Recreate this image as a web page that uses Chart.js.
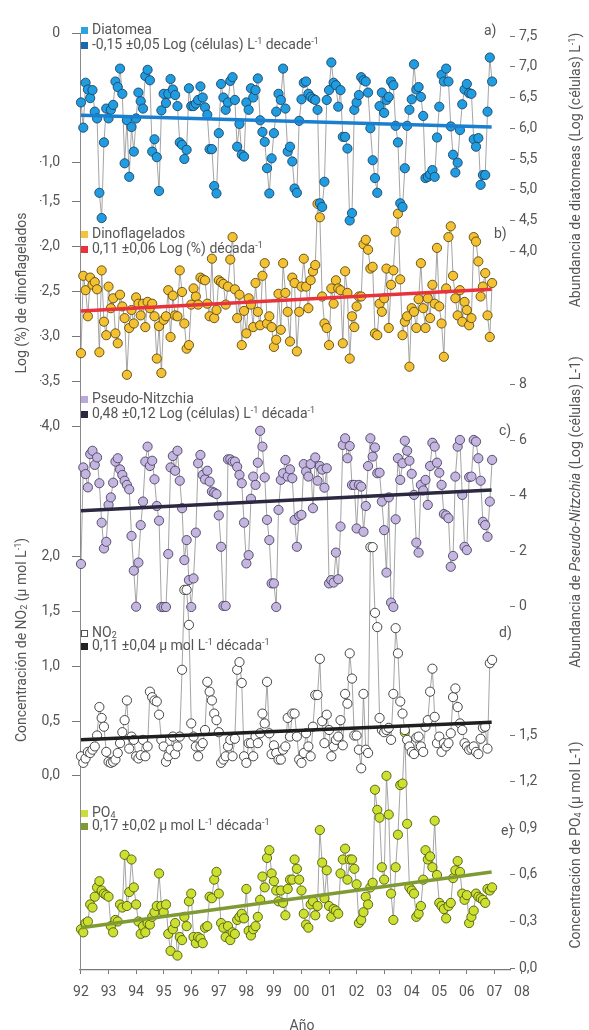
<!DOCTYPE html>
<html>
<head>
<meta charset="utf-8">
<script src="https://cdn.jsdelivr.net/npm/chart.js@4.4.0/dist/chart.umd.min.js"></script>
<style>
  body { margin: 0; background: #fff; }
  #wrap { position: relative; width: 589px; height: 1030px; font-family: Roboto, "DejaVu Sans", sans-serif; color: #555; }
  #c { position: absolute; left: 0; top: 0; }
  .t { position: absolute; white-space: nowrap; font-size: 14px; line-height: 14px; }
  .sq { display: inline-block; width: 7px; height: 7px; margin-right: 4px; box-sizing: border-box; }
  .rot { position: absolute; white-space: nowrap; font-size: 14px; transform: translate(-50%, -50%) rotate(-90deg); }
  sup { font-size: 9px; line-height: 0; vertical-align: 5px; }
  sub { font-size: 9px; line-height: 0; vertical-align: -1px; }
</style>
</head>
<body>
<div id="wrap">
  <canvas id="c" width="589" height="1030"></canvas>

  <div class="t" style="left:81px;top:22px"><span class="sq" style="background:#2aa4e0"></span>Diatomea</div>
  <div class="t" style="left:81px;top:37px"><span class="sq" style="background:#1b68ad"></span>-0,15 ±0,05 Log (células) L<sup>-1</sup> decade<sup>-1</sup></div>
  <div class="t" style="left:484px;top:23px">a)</div>

  <div class="t" style="left:81px;top:226px"><span class="sq" style="background:#f5c23c"></span>Dinoflagelados</div>
  <div class="t" style="left:81px;top:241px"><span class="sq" style="background:#e8333c"></span>0,11 ±0,06 Log (%) década<sup>-1</sup></div>
  <div class="t" style="left:494px;top:226px">b)</div>

  <div class="t" style="left:81px;top:391px"><span class="sq" style="background:#b9a8d8"></span>Pseudo-Nitzchia</div>
  <div class="t" style="left:81px;top:406px"><span class="sq" style="background:#2b2840"></span>0,48 ±0,12 Log (células) L<sup>-1</sup> década<sup>-1</sup></div>
  <div class="t" style="left:499px;top:423px">c)</div>

  <div class="t" style="left:81px;top:625px"><span class="sq" style="border:1px solid #555"></span>NO<sub>2</sub></div>
  <div class="t" style="left:81px;top:638px"><span class="sq" style="background:#222"></span>0,11 ±0,04 µ mol L<sup>-1</sup> década<sup>-1</sup></div>
  <div class="t" style="left:499px;top:625px">d)</div>

  <div class="t" style="left:81px;top:805px"><span class="sq" style="background:#cadd3a"></span>PO<sub>4</sub></div>
  <div class="t" style="left:81px;top:818px"><span class="sq" style="background:#7f9a33"></span>0,17 ±0,02 µ mol L<sup>-1</sup> década<sup>-1</sup></div>
  <div class="t" style="left:501px;top:823px">e)</div>

  <div class="rot" style="left:21px;top:293px">Log (%) de dinoflagelados</div>
  <div class="rot" style="left:21px;top:640px">Concentración de NO<sub>2</sub> (µ mol L<sup>-1</sup>)</div>
  <div class="rot" style="left:575px;top:170px">Abundancia de diatomeas (Log (células) L<sup>-1</sup>)</div>
  <div class="rot" style="left:575px;top:512px">Abundancia de <i>Pseudo-Nitzchia</i> (Log (células) L-1)</div>
  <div class="rot" style="left:575px;top:845px">Concentración de PO<sub>4</sub> (µ mol L-1)</div>
  <div class="t" style="left:302px;top:1018px;transform:translateX(-50%)">Año</div>
</div>

<script>
// eje temporal mensual 1992-2006
const months = Array.from({ length: 180 }, (_, i) => 1992 + i / 12);
const trendYears = [1992, 2006.9];

const diatomea = [
  6.42, 6.01, 6.74, 6.63, 6.49, 6.62, 6.27, 6.16, 4.95, 4.54, 5.77, 6.32,
  6.16, 6.30, 6.38, 6.76, 6.67, 6.97, 6.56, 5.43, 6.13, 5.21, 6.02, 5.62,
  6.16, 6.58, 6.44, 6.32, 6.85, 6.95, 6.78, 5.62, 5.82, 5.53, 4.98, 6.29,
  6.56, 6.41, 6.56, 6.80, 6.63, 6.54, 6.36, 5.77, 5.73, 5.50, 5.65, 6.65,
  6.36, 6.36, 6.40, 6.46, 6.68, 6.50, 6.34, 6.22, 5.66, 5.66, 5.06, 4.94,
  5.92, 6.72, 6.50, 6.30, 6.42, 6.77, 6.83, 6.46, 5.70, 6.07, 5.57, 5.54,
  6.42, 6.30, 6.65, 6.50, 6.62, 6.81, 6.13, 5.94, 5.78, 5.35, 4.94, 5.51,
  5.92, 6.27, 6.56, 6.46, 6.97, 6.32, 5.62, 5.70, 5.46, 5.02, 4.95, 6.12,
  6.47, 6.74, 6.76, 6.56, 6.51, 6.48, 6.46, 6.30, 4.78, 4.72, 5.13, 6.46,
  6.62, 7.07, 6.74, 6.70, 6.35, 6.62, 5.86, 5.86, 5.67, 4.50, 4.62, 6.30,
  6.42, 6.54, 6.83, 6.78, 6.76, 6.58, 6.00, 5.48, 5.19, 4.95, 6.36, 6.58,
  6.25, 6.46, 6.51, 6.76, 6.70, 6.04, 5.77, 4.78, 4.72, 5.35, 6.04, 6.30,
  6.47, 7.04, 6.63, 6.67, 6.51, 6.20, 5.19, 5.21, 5.25, 5.32, 5.21, 5.85,
  6.35, 6.87, 6.76, 6.97, 6.76, 6.03, 5.57, 5.28, 5.44, 5.97, 6.39, 6.63,
  6.72, 6.57, 6.56, 5.82, 5.70, 5.84, 5.08, 5.24, 5.24, 6.27, 7.15, 6.76
];

const dinoflagelados = [
  -3.18, -2.32, -2.48, -2.77, -2.34, -2.42, -2.39, -2.47, -3.17, -2.26,
  -2.83, -2.98, -2.44, -2.68, -2.57, -2.96, -3.07, -2.53, -2.66,
  -2.79, -3.42, -2.90, -2.70, -2.85, -2.56, -2.63, -2.76, -2.63, -2.89,
  -2.61, -2.68, -2.63, -2.77, -3.24, -2.88, -3.40, -2.81, -2.77, -2.48,
  -3.00, -2.54, -2.76, -2.77, -2.26, -2.50, -2.85, -3.13, -3.09, -2.64,
  -2.46, -2.55, -2.64, -2.34, -2.36, -2.37, -2.63, -2.77, -2.13,
  -2.79, -2.70, -2.37, -2.39, -2.41, -2.64, -2.44, -2.14, -1.89, -2.47,
  -2.79, -2.53, -3.09, -2.71, -2.96, -2.57, -2.64, -2.89, -2.40, -2.72,
  -2.87, -2.32, -2.18, -2.85, -2.77, -2.89, -3.11, -3.03, -2.52, -2.92,
  -2.18, -2.51, -2.72, -3.05, -2.34, -2.40, -3.16, -2.72, -2.44, -2.13,
  -2.44, -2.68, -2.37, -2.27, -2.20, -1.52, -1.67, -2.55, -2.85, -2.90,
  -3.09, -2.46, -2.63, -2.37, -2.46, -2.48, -3.07, -2.27, -2.51, -3.24,
  -2.77, -2.89, -2.66, -2.55, -2.55, -1.97, -1.92, -2.03, -2.24,
  -2.22, -2.96, -2.98, -2.63, -2.72, -2.57, -2.24, -2.90, -2.42, -2.26,
  -1.83, -1.63, -2.36, -2.98, -2.83, -2.77, -3.33, -2.68, -2.72, -2.90,
  -2.58, -2.18, -2.68, -2.90, -2.57, -2.79, -2.42, -2.63, -2.01, -2.66,
  -2.85, -3.22, -2.46, -1.89, -1.77, -2.32, -2.57, -2.76, -2.48, -2.83,
  -2.61, -2.70, -2.87, -2.79, -1.89, -1.94, -2.16, -2.55, -2.44, -2.29,
  -2.76, -3.00, -2.40
];

const pseudoNitzchia = [
  1.55, 5.03, 4.79, 4.31, 5.51, 5.63, 5.12, 5.39, 4.46, 3.04, 2.11, 2.35,
  3.68, 3.95, 4.48, 5.24, 5.36, 4.96, 4.76, 4.55, 4.40, 4.24, 2.56, 1.31,
  0.01, 1.60, 2.95, 3.80, 5.24, 5.78, 5.08, 5.27, 4.60, 3.64, 3.11, 0.00,
  0.00, 0.00, 1.91, 5.03, 5.44, 4.91, 5.63, 4.55, 3.56, 1.69, 2.41, 0.97,
  0.00, 1.03, 2.68, 5.18, 5.48, 4.76, 4.60, 4.91, 4.52, 4.16, 4.12, 4.07,
  3.30, 2.17, 0.04, 0.04, 5.32, 5.32, 5.24, 5.24, 5.05, 4.76, 4.46, 3.04, 1.57,
  1.87, 3.90, 4.70, 4.40, 5.20, 6.35, 5.78, 4.67, 3.14, 2.41, 0.85, 0.85, 0.00,
  3.50, 4.58, 4.82, 5.30, 4.70, 4.96, 4.64, 3.14, 2.17, 3.28, 3.32, 5.15,
  4.88, 4.70, 5.15, 3.56, 5.39, 4.55, 5.08, 4.95, 4.30, 5.00,
  0.85, 0.97, 0.88, 1.96, 1.00, 2.90, 5.84, 6.08, 5.36, 5.80, 4.40, 4.40,
  2.83, 4.40, 4.34, 2.71, 3.64, 5.08, 6.08, 5.42, 5.75, 4.82, 4.84, 3.80,
  2.77, 1.24, 3.95, 0.16, 0.00,
  3.16, 5.36, 4.58, 5.18, 5.99, 5.63, 5.27, 4.80, 4.04, 2.32, 1.96, 4.40,
  4.20, 4.58, 3.68, 5.08, 5.92, 5.78, 5.20, 4.84, 4.40, 3.35, 3.30, 3.20,
  1.45, 1.84,
  4.70, 5.78, 6.02, 4.04, 2.17, 2.05, 4.68, 4.70, 6.02, 5.96, 5.36, 4.55,
  3.07, 2.95, 2.53, 3.80, 5.30
];

const no2 = [
  0.18, 0.12, 0.16, 0.22, 0.21, 0.24, 0.27, 0.37, 0.63, 0.53, 0.45, 0.22,
  0.13, 0.12, 0.13, 0.15, 0.21, 0.30, 0.40, 0.51, 0.69, 0.25, 0.36, 0.33,
  0.18, 0.16, 0.19, 0.33, 0.18, 0.27, 0.77, 0.72, 0.69, 0.68, 0.56, 0.33,
  0.27, 0.13, 0.18, 0.24, 0.36, 0.20, 0.27, 0.36, 0.97, 1.70, 1.70, 1.38,
  0.48, 0.36, 0.27, 0.18, 0.27, 0.30, 0.42, 0.86, 0.77, 0.69, 0.57, 0.51,
  0.40, 0.12, 0.15, 0.18, 0.27, 0.33, 0.18, 0.34, 0.97, 1.04, 0.85, 0.18,
  0.12, 0.30, 0.30, 0.18, 0.36, 0.30, 0.39, 0.57, 0.48, 0.86, 0.39, 0.20,
  0.28, 0.21, 0.15, 0.15, 0.24, 0.27, 0.53, 0.36, 0.57, 0.57, 0.36, 0.15,
  0.12, 0.21, 0.39, 0.27, 0.18, 0.45, 0.74, 0.74, 1.07, 0.50, 0.30, 0.56,
  0.42, 0.18, 0.27, 0.33, 0.36, 0.51, 0.28, 0.75, 0.66, 1.12, 0.89, 0.37,
  0.37, 0.24, 0.07, 0.75, 0.24, 0.21, 2.09, 2.09, 1.49, 1.36, 0.53, 0.42,
  0.40, 0.42, 0.44, 0.33, 0.75, 1.35, 1.12, 0.68, 0.57, 0.42, 0.33, 0.27,
  0.22, 0.20, 0.35, 0.36, 0.27, 0.22, 0.45, 0.51, 0.77, 0.98, 0.54, 0.30,
  0.36, 0.22, 0.30, 0.27, 0.30, 0.39, 0.72, 0.80, 0.63, 0.48, 0.42, 0.30,
  0.27, 0.24, 0.25, 0.27, 0.22, 0.20, 0.34, 0.44, 0.45, 0.25, 1.03, 1.06
];

const po4 = [
  0.25, 0.23, 0.29, 0.30, 0.41, 0.39, 0.46, 0.52, 0.56, 0.50, 0.48, 0.47,
  0.46, 0.27, 0.23, 0.31, 0.30, 0.41, 0.39, 0.73, 0.40, 0.49, 0.70, 0.52,
  0.41, 0.30, 0.22, 0.27, 0.23, 0.29, 0.28, 0.33, 0.36, 0.40, 0.61, 0.40,
  0.36, 0.41, 0.22, 0.11, 0.25, 0.29, 0.08, 0.20, 0.18, 0.33, 0.27, 0.43,
  0.48, 0.20, 0.16, 0.20, 0.19, 0.16, 0.26, 0.27, 0.46, 0.45, 0.57, 0.62,
  0.48, 0.29, 0.26, 0.20, 0.27, 0.18, 0.23, 0.22, 0.31, 0.33, 0.35, 0.32,
  0.51, 0.24, 0.21, 0.25, 0.27, 0.33, 0.44, 0.59, 0.52, 0.71, 0.76, 0.61,
  0.56, 0.50, 0.43, 0.50, 0.42, 0.34, 0.51, 0.57, 0.57, 0.70, 0.64, 0.57,
  0.50, 0.35, 0.28, 0.26, 0.41, 0.43, 0.34, 0.40, 0.89, 0.68, 0.45, 0.63,
  0.40, 0.33, 0.38, 0.37, 0.35, 0.61, 0.70, 0.77, 0.57, 0.70, 0.70, 0.64,
  0.54, 0.29, 0.31, 0.36, 0.46, 0.41, 0.52, 0.55, 1.15, 1.02, 0.97, 0.65,
  0.57, 1.24, 0.99, 0.48, 0.31, 0.65, 0.86, 1.18, 1.19, 1.52, 0.93, 0.52,
  0.50, 0.48, 0.33, 0.35, 0.40, 0.57, 0.76, 0.70, 0.72, 0.65, 0.95, 0.60,
  0.42, 0.40, 0.38, 0.32, 0.40, 0.42, 0.58, 0.63, 0.69, 0.62, 0.48, 0.44,
  0.47, 0.29, 0.33, 0.37, 0.48, 0.46, 0.45, 0.44, 0.42, 0.51, 0.50, 0.52
];

// tendencias (inicio, fin)
const diatomeaTrend = [6.21, 6.02];
const dinoTrend = [-2.71, -2.47];
const pnTrend = [3.47, 4.22];
const no2Trend = [0.33, 0.49];
const po4Trend = [0.26, 0.62];

// ticks de cada eje
const xTicks = [1992, 1993, 1994, 1995, 1996, 1997, 1998, 1999, 2000, 2001, 2002, 2003, 2004, 2005, 2006, 2007, 2008];
const topTicks = [0, -1];
const topLabels = ["0", "-1,0"];
const dinoTicks = [-1.5, -2, -2.5, -3, -3.5, -4];
const dinoLabels = ["-1,5", "-2,0", "-2,5", "-3,0", "-3,5", "-4,0"];
const no2Ticks = [2, 1.5, 1, 0.5, 0];
const no2Labels = ["2,0", "1,5", "1,0", "0,5", "0,0"];
const diatTicks = [7.5, 7, 6.5, 6, 5.5, 5, 4.5, 4];
const diatLabels = ["7,5", "7,0", "6,5", "6,0", "5,5", "5,0", "4,5", "4,0"];
const pnTicks = [8, 6, 4, 2, 0];
const pnLabels = ["8", "6", "4", "2", "0"];
const po4Ticks = [1.5, 1.2, 0.9, 0.6, 0.3, 0];
const po4Labels = ["1,5", "1,2", "0,9", "0,6", "0,3", "0,0"];

Chart.defaults.font.family = "Roboto, 'DejaVu Sans', sans-serif";
Chart.defaults.color = "#555";

function serie(label, values, axis, fill, stroke, order) {
  return {
    type: "line",
    label,
    yAxisID: axis,
    order,
    data: values.map((v, i) => ({ x: months[i], y: v })),
    borderColor: "#8d8d8d",
    borderWidth: 0.8,
    pointRadius: 4.6,
    pointHoverRadius: 4.6,
    pointBackgroundColor: fill,
    pointBorderColor: stroke,
    pointBorderWidth: 0.9,
    tension: 0,
    clip: false,
  };
}

function trend(label, values, axis, color, order) {
  return {
    type: "line",
    label,
    yAxisID: axis,
    order,
    data: values.map((v, i) => ({ x: trendYears[i], y: v })),
    borderColor: color,
    borderWidth: 3.5,
    pointRadius: 0,
    clip: false,
  };
}

function yAxis(position, weight, min, max, ticks, labels, showBorder) {
  return {
    type: "linear",
    position,
    stack: position,
    stackWeight: weight,
    min,
    max,
    bounds: "data",
    afterBuildTicks: (s) => {
      s.ticks = ticks.map((v) => ({ value: v }));
    },
    afterFit: (s) => {
      s.width = 40;
    },
    grid: {
      drawOnChartArea: false,
      drawTicks: true,
      tickLength: position === "left" ? 8 : 5,
      color: "#777",
    },
    border: { display: showBorder, color: "#8a8a8a", width: 1 },
    ticks: {
      autoSkip: false,
      padding: position === "left" ? 12 : 4,
      color: "#555",
      font: { size: 14 },
      callback: (v, i) => labels[i],
    },
  };
}

new Chart(document.getElementById("c"), {
  type: "line",
  data: {
    datasets: [
      trend("diatomea tendencia", diatomeaTrend, "yDiat", "#1b7fd0", 0),
      trend("dino tendencia", dinoTrend, "yDino", "#e8333c", 1),
      trend("pn tendencia", pnTrend, "yPN", "#2b2840", 2),
      trend("no2 tendencia", no2Trend, "yNO2", "#1e1e1e", 3),
      trend("po4 tendencia", po4Trend, "yPO4", "#7f9a33", 4),
      serie("Diatomea", diatomea, "yDiat", "#1f9de0", "#1d4468", 5),
      serie("NO2", no2, "yNO2", "#ffffff", "#333333", 6),
      serie("Pseudo-Nitzchia", pseudoNitzchia, "yPN", "#c4b6de", "#4a4266", 7),
      serie("Dinoflagelados", dinoflagelados, "yDino", "#f4c132", "#5a4810", 8),
      serie("PO4", po4, "yPO4", "#cde030", "#4b5a10", 9),
    ],
  },
  options: {
    responsive: false,
    animation: false,
    events: [],
    layout: { padding: { left: 40, right: 39, top: 33, bottom: 0 } },
    plugins: { legend: { display: false }, tooltip: { enabled: false } },
    scales: {
      x: {
        type: "linear",
        position: "bottom",
        min: 1991.964,
        max: 2007.566,
        bounds: "data",
        afterBuildTicks: (s) => {
          s.ticks = xTicks.map((v) => ({ value: v }));
        },
        afterFit: (s) => {
          s.height = 60;
        },
        grid: { drawOnChartArea: false, drawTicks: true, tickLength: 4, color: "#777" },
        border: { display: true, color: "#777", width: 1.2 },
        ticks: {
          autoSkip: false,
          maxRotation: 0,
          padding: 10,
          color: "#555",
          font: { size: 14 },
          callback: (v) => String(v % 100).padStart(2, "0"),
        },
      },
      // el lado izquierdo se apila en orden inverso: se declara de abajo hacia arriba
      yNO2: yAxis("left", 500, -1.7717, 2.7945, no2Ticks, no2Labels, true),
      yDino: yAxis("left", 290, -4.4778, -1.2556, dinoTicks, dinoLabels, true),
      yTop: yAxis("left", 147, -1.1395, 0, topTicks, topLabels, true),
      yDiat: yAxis("right", 267, 3.2073, 7.5488, diatTicks, diatLabels, false),
      yPN: yAxis("right", 340, -1.1892, 11.063, pnTicks, pnLabels, false),
      yPO4: yAxis("right", 330, -0.0129, 2.1161, po4Ticks, po4Labels, false),
    },
  },
});
</script>
</body>
</html>
